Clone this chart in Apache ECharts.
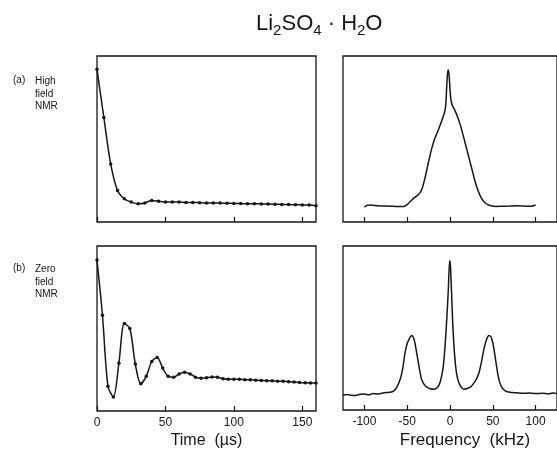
<!DOCTYPE html>
<html>
<head>
<meta charset="utf-8">
<script src="https://cdn.jsdelivr.net/npm/echarts@6/dist/echarts.min.js"></script>
<style>
  html, body { margin: 0; padding: 0; background: #fff; }
  #nmr_chart { width: 557px; height: 450px; }
</style>
</head>
<body>
<div id="nmr_chart"></div>
<script>
// (a) high field FID, sampled every 5 us
const timeHigh = [0, 5, 10, 15, 20, 25, 30, 35, 40, 45, 50, 55, 60, 65, 70, 75, 80,
    85, 90, 95, 100, 105, 110, 115, 120, 125, 130, 135, 140, 145, 150, 155, 160];
const fidHigh = [92, 63, 35, 19, 14, 12, 11, 11.5, 13, 12.5, 12, 12, 12, 11.8, 11.8, 11.6, 11.5,
    11.5, 11.4, 11.3, 11.2, 11.1, 11, 11, 10.9, 10.8, 10.7, 10.6, 10.5, 10.4, 10.3, 10.2, 9.8];

// (b) zero field FID, sampled every 4 us
const timeZero = [0, 4, 8, 12, 16, 20, 24, 28, 32, 36, 40, 44, 48, 52, 56, 60, 64, 68, 72, 76, 80,
    84, 88, 92, 96, 100, 104, 108, 112, 116, 120, 124, 128, 132, 136, 140, 144, 148, 152, 156, 160];
const fidZero = [91.5, 58, 15, 8.5, 29, 53, 50, 28.5, 16.5, 21, 30, 32.5, 26, 21, 20.5, 22.5, 23.5, 22.5, 20.5, 19.8, 20.2,
    20.6, 20.5, 19.6, 19.3, 19.3, 19.2, 19, 18.9, 18.7, 18.5, 18.4, 18.3, 18.1, 18, 17.8, 17.6, 17.3, 17.1, 17, 16.9];

// spectra (kHz)
const freqHigh = [-100, -97, -93, -88, -80, -70, -60, -54, -50, -46, -42, -38, -35, -32, -29, -26, -22, -18, -14, -10,
    -6.5, -5, -4, -3, -2, -1, 0, 1, 2.5, 5, 8, 12, 16, 20, 24, 28, 32, 36, 40, 44, 48, 54, 60, 70, 78, 85, 90, 95, 100];
const specHigh = [9, 10, 10.3, 10, 9.7, 9.5, 9.3, 9.3, 10.5, 12.5, 14.5, 16, 17.5, 21, 27, 34, 43, 50, 55, 60.5,
    66, 70, 80, 89, 91.5, 88, 80, 74, 70.5, 68, 64.5, 58.5, 51, 43, 35, 27, 20, 15, 12, 10.5, 9.8, 9.4, 9.5, 9.6, 9.8, 9.7, 9.5, 9.5, 10.2];

const freqZero = [-125, -120, -115, -110, -105, -100, -95, -90, -85, -80, -75, -70, -66, -62, -58, -55, -52.5, -50, -47, -45,
    -43, -41, -39, -37, -35, -33, -30, -27, -23, -19, -16, -13, -10.5, -8, -6.5, -5, -3.5, -2, -0.5, 0.5,
    1.5, 3, 4.5, 6.5, 8.5, 10.5, 13, 16, 19, 22, 25, 28, 31, 34, 37, 40, 43, 45.5, 48, 50,
    52, 54, 56, 58, 61, 65, 70, 78, 85, 92, 100, 108, 115, 120, 125];
const specZero = [9, 9.5, 9, 8.8, 9.6, 9.7, 9.3, 10, 9.8, 10.2, 10.7, 10.8, 11.5, 14, 19, 26, 35, 40.5, 44, 45.5,
    44.5, 41, 35, 29, 23, 18.5, 15.5, 14, 13, 12.7, 13.2, 15, 19, 26, 34, 45, 58, 73, 91, 88,
    76, 55, 40, 27, 20, 16.5, 14, 12.7, 13, 13.5, 14.5, 16.5, 19, 23, 30, 38, 43.5, 45.5, 44.5, 41,
    35, 28, 21.5, 17, 13.5, 11.5, 10.8, 10.5, 10.2, 10.3, 10, 10.2, 9.8, 10.3, 10];

const timeTicks = [0, 50, 100, 150];
const freqTicks = [-100, -50, 0, 50, 100];

const pair = (xs, ys) => xs.map((x, i) => [x, ys[i]]);

const FONT = "'Liberation Sans', Arial, sans-serif";
const INK = "#161616";

const drawNmrChart = () => {
    const chart = echarts.init(document.getElementById("nmr_chart"));

    const gridBase = { show: true, borderColor: INK, borderWidth: 1.3, backgroundColor: "transparent" };

    const makeX = (gridIndex, min, max, ticks, labels, name, nameStyle) => ({
        type: "value",
        gridIndex,
        min,
        max,
        axisLine: { show: false },
        axisTick: { show: true, inside: true, length: 5, customValues: ticks, lineStyle: { color: INK, width: 1.2 } },
        axisLabel: { show: labels, customValues: ticks, margin: 6, color: INK, fontSize: 12, fontFamily: FONT },
        splitLine: { show: false },
        name: name || "",
        nameLocation: "middle",
        nameGap: 22,
        nameTextStyle: { color: INK, fontSize: 16, fontFamily: FONT, ...nameStyle }
    });

    const makeY = (gridIndex) => ({
        type: "value",
        gridIndex,
        min: 0,
        max: 100,
        axisLine: { show: false },
        axisTick: { show: false },
        axisLabel: { show: false },
        splitLine: { show: false }
    });

    const lineBase = { type: "line", smooth: 0.3, lineStyle: { color: INK, width: 1.5 }, itemStyle: { color: INK } };

    const option = {
        animation: false,
        title: {
            text: "{a|Li}{s|2}{a|SO}{s|4}{a| · H}{s|2}{a|O}",
            left: 251,
            top: 5,
            textStyle: {
                fontWeight: "normal",
                rich: {
                    a: { fontSize: 22, fontFamily: FONT, fontWeight: "normal", color: INK, lineHeight: 28 },
                    s: { fontSize: 15, fontFamily: FONT, fontWeight: "normal", color: INK, lineHeight: 15, verticalAlign: "bottom" }
                }
            }
        },
        graphic: [
            { type: "text", left: 13, top: 75, style: { text: "(a)", font: "10px " + FONT, fill: INK } },
            { type: "text", left: 35, top: 75, style: { text: "High\nfield\nNMR", font: "10px " + FONT, fill: INK, lineHeight: 12.5 } },
            { type: "text", left: 13, top: 263, style: { text: "(b)", font: "10px " + FONT, fill: INK } },
            { type: "text", left: 35, top: 263, style: { text: "Zero\nfield\nNMR", font: "10px " + FONT, fill: INK, lineHeight: 12.5 } }
        ],
        grid: [
            { ...gridBase, left: 97, top: 56, width: 219, height: 166 },
            { ...gridBase, left: 343, top: 56, width: 220, height: 166 },
            { ...gridBase, left: 97, top: 246, width: 219, height: 165 },
            { ...gridBase, left: 343, top: 246, width: 220, height: 165 }
        ],
        xAxis: [
            makeX(0, 0, 160, timeTicks, false),
            makeX(1, -125, 125, freqTicks, false),
            makeX(2, 0, 160, timeTicks, true, "Time  (\u00b5s)"),
            makeX(3, -125, 125, freqTicks, true, "Frequency  (kHz)", { fontSize: 17, padding: [0, 0, 0, 30] })
        ],
        yAxis: [makeY(0), makeY(1), makeY(2), makeY(3)],
        series: [
            { ...lineBase, xAxisIndex: 0, yAxisIndex: 0, symbol: "circle", symbolSize: 3.5, data: pair(timeHigh, fidHigh) },
            { ...lineBase, xAxisIndex: 1, yAxisIndex: 1, showSymbol: false, smooth: 0.2, data: pair(freqHigh, specHigh) },
            { ...lineBase, xAxisIndex: 2, yAxisIndex: 2, symbol: "circle", symbolSize: 3.5, data: pair(timeZero, fidZero) },
            { ...lineBase, xAxisIndex: 3, yAxisIndex: 3, showSymbol: false, smooth: 0.2, data: pair(freqZero, specZero) }
        ]
    };

    chart.setOption(option);
};

document.addEventListener("DOMContentLoaded", () => {
    drawNmrChart();
});
</script>
</body>
</html>
